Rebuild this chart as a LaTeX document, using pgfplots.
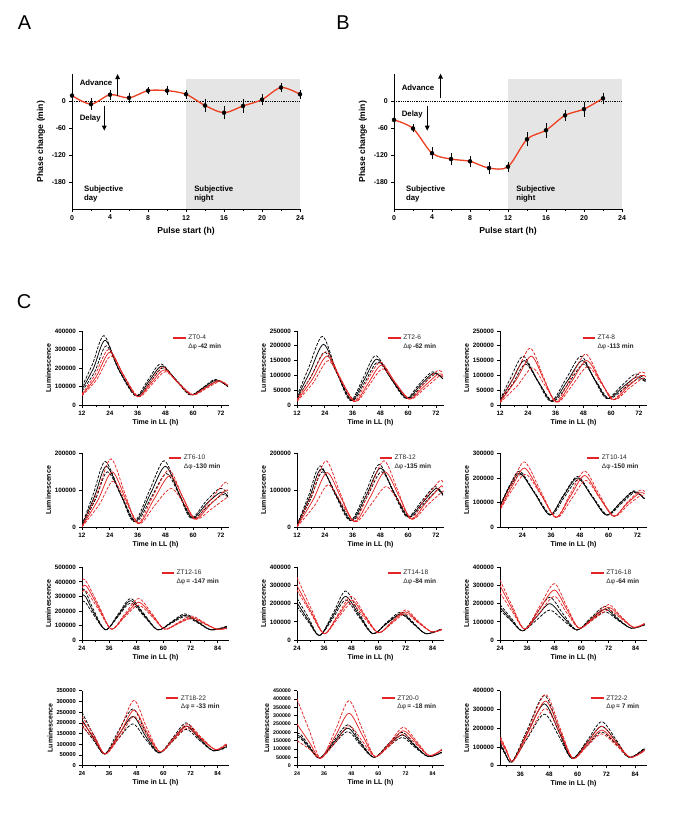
\documentclass[border=0pt]{standalone}
\usepackage{pgfplots}
\pgfplotsset{compat=1.18}
\usepackage{fontspec}
\setmainfont{Liberation Sans}
\usetikzlibrary{arrows.meta}
\definecolor{cred}{RGB}{228,36,36}
\definecolor{ored}{RGB}{238,62,32}
\pgfplotsset{
 base/.style={scale only axis, axis x line*=bottom, axis y line*=left,
   tick align=outside, axis line style={line width=0.9pt},
   every tick/.style={black, line width=0.7pt},
   major tick length=2.6pt, minor tick length=1.6pt,
   /pgf/number format/assume math mode=true},
 cp/.style={base, anchor=south west, width=147pt, ymin=0, xtick={12,24,...,84}, minor x tick num=1,
   tick label style={font=\bfseries\fontsize{6.3}{7}\selectfont},
   xlabel={Time in LL (h)}, ylabel={Luminescence},
   xlabel style={font=\bfseries\fontsize{7}{8}\selectfont, yshift=3pt},
   ylabel style={font=\bfseries\fontsize{7}{8}\selectfont, yshift=-3pt}},
 pp/.style={base, anchor=south west, width=228pt, height=135pt, xmin=0, xmax=24, ymin=-240, ymax=60,
   xtick={0,4,...,24}, minor x tick num=1, ytick={-180,-120,-60,0},
   tick label style={font=\bfseries\fontsize{7}{8}\selectfont},
   xlabel={Pulse start (h)}, ylabel={Phase change (min)},
   label style={font=\bfseries\fontsize{8.6}{10}\selectfont}, clip=false},
 bk/.style={black, line width=0.75pt, smooth, mark=none},
 bkd/.style={bk, dash pattern=on 3pt off 1.5pt},
 rd/.style={cred, line width=0.75pt, smooth, mark=none},
 rdd/.style={rd, dash pattern=on 3pt off 1.5pt},
 eb/.style={only marks, mark=none, black, error bars/.cd, y dir=both, y explicit,
   error bar style={line width=0.75pt, black}, error mark options={black, mark size=2.2pt, line width=0.75pt}},
 y200/.style={ymax=200, ytick={0,100,200}, yticklabels={0,100000,200000}},
 y250/.style={ymax=250, ytick={0,50,...,250}, yticklabels={0,50000,100000,150000,200000,250000}},
 y300/.style={ymax=300, ytick={0,100,...,300}, yticklabels={0,100000,200000,300000}},
 y350/.style={ymax=350, ytick={0,50,...,350}, yticklabels={0,50000,100000,150000,200000,250000,300000,350000}, tick label style={font=\bfseries\fontsize{5.8}{6}\selectfont}},
 y400/.style={ymax=400, ytick={0,100,...,400}, yticklabels={0,100000,200000,300000,400000}},
 y450/.style={ymax=450, ytick={0,50,...,450}, yticklabels={0,50000,100000,150000,200000,250000,300000,350000,400000,450000}, tick label style={font=\bfseries\fontsize{5.3}{5.5}\selectfont}},
 y500/.style={ymax=500, ytick={0,100,...,500}, yticklabels={0,100000,200000,300000,400000,500000}},
}
\newcommand{\leg}[4]{\node[anchor=west, inner sep=0pt, align=left, font=\fontsize{6.6}{8.5}\selectfont, text=black!85] at (rel axis cs:#1,#2) {\textcolor{cred}{\rule[0.2em]{12.5pt}{1.3pt}}\hspace{2.5pt}#3\\\hspace{15pt}Δφ\,\textbf{#4}};}
\begin{document}
\begin{tikzpicture}
\path[use as bounding box] (0,0) rectangle (683pt,-814pt);
\node[font=\fontsize{20}{20}\selectfont] at (24.5pt,-22.5pt) {A};
\node[font=\fontsize{20}{20}\selectfont] at (343pt,-22.5pt) {B};
\node[font=\fontsize{20}{20}\selectfont] at (24pt,-302pt) {C};

% ---------- Panel A
\begin{axis}[pp, at={(72pt,-209pt)}]
\addplot[draw=none, fill=gray!20] coordinates {(12,-240) (12,50) (24,50) (24,-240)};
\addplot[densely dotted, line width=0.8pt] coordinates {(0,0) (24,0)};
\addplot[ored, line width=1.3pt, smooth, mark=none] table {
x y
0 12
2 -7
4 14
6 7
8 23
10 23
12 15
14 -10
16 -26
18 -11
20 3
22 30
24 15
};
\addplot[eb] table[y error=e] {
x y e
0 12 10
2 -7 8
4 14 6
6 7 7
8 23 3
10 23 5
12 15 5
14 -10 9
16 -26 10
18 -11 10
20 3 8
22 30 5
24 15 5
};
\draw[-{Triangle[length=5pt,width=4.5pt]}, line width=1pt] (axis cs:4.8,11) -- (axis cs:4.8,60);
\draw[-{Triangle[length=5pt,width=4.5pt]}, line width=1pt] (axis cs:3.4,-10) -- (axis cs:3.4,-66);
\node[anchor=west, font=\bfseries\fontsize{7.8}{9}\selectfont] at (axis cs:0.45,40) {Advance};
\node[anchor=west, font=\bfseries\fontsize{7.8}{9}\selectfont] at (axis cs:0.45,-38) {Delay};
\node[anchor=west, align=left, font=\bfseries\fontsize{7.8}{9}\selectfont] at (axis cs:0.9,-206) {Subjective\\day};
\node[anchor=west, align=left, font=\bfseries\fontsize{7.8}{9}\selectfont] at (axis cs:12.5,-206) {Subjective\\night};
\end{axis}

% ---------- Panel B
\begin{axis}[pp, at={(394pt,-209pt)}]
\addplot[draw=none, fill=gray!20] coordinates {(12,-240) (12,50) (24,50) (24,-240)};
\addplot[densely dotted, line width=0.8pt] coordinates {(0,0) (24,0)};
\addplot[ored, line width=1.3pt, smooth, mark=none] table {
x y
0 -42
2 -61
4 -116
6 -129
8 -134
10 -149
12 -146
14 -85
16 -65
18 -32
20 -18
22 6
};
\addplot[eb] table[y error=e] {
x y e
0 -42 12
2 -61 4
4 -116 8
6 -129 9
8 -134 7
10 -149 8
12 -146 6
14 -85 11
16 -65 12
18 -32 8
20 -18 12
22 6 8
};
\draw[-{Triangle[length=5pt,width=4.5pt]}, line width=1pt] (axis cs:4.9,6) -- (axis cs:4.9,61);
\draw[-{Triangle[length=5pt,width=4.5pt]}, line width=1pt] (axis cs:3.5,-11) -- (axis cs:3.5,-66);
\node[anchor=west, font=\bfseries\fontsize{7.8}{9}\selectfont] at (axis cs:0.45,29) {Advance};
\node[anchor=west, font=\bfseries\fontsize{7.8}{9}\selectfont] at (axis cs:0.45,-29) {Delay};
\node[anchor=west, align=left, font=\bfseries\fontsize{7.8}{9}\selectfont] at (axis cs:0.9,-206) {Subjective\\day};
\node[anchor=west, align=left, font=\bfseries\fontsize{7.8}{9}\selectfont] at (axis cs:12.5,-206) {Subjective\\night};
\end{axis}

% ================= Row 1
\begin{axis}[cp, y400, at={(82pt,-405pt)}, height=74pt, xmin=12, xmax=75.5]
\addplot[bkd] coordinates {(12,100) (16.5,220) (21.5,375) (27.5,200) (35,50) (40.5,135) (46,222) (52.5,135) (58.5,55) (64,92) (69.5,138) (75,100)};
\addplot[bk] coordinates {(12,85) (17,200) (22,350) (28,190) (35.5,50) (41,130) (46.5,210) (53,130) (59,55) (64,90) (70,135) (75,100)};
\addplot[bkd] coordinates {(12,75) (17.5,180) (22.5,320) (28.5,175) (36,48) (41.5,125) (47,200) (53.5,125) (59.5,55) (64.5,88) (70.5,130) (75,102)};
\addplot[rdd] coordinates {(12,60) (17.5,160) (23.5,300) (29.5,170) (36,45) (41.5,125) (47,205) (53,125) (59.5,55) (65,92) (71,133) (75,105)};
\addplot[rd] coordinates {(12,55) (18,150) (24,285) (30,160) (36,45) (42,120) (47.5,190) (53.5,120) (59.5,55) (65,90) (71,130) (75,105)};
\addplot[rdd] coordinates {(12,50) (18.5,140) (24.5,265) (30.5,150) (36.5,45) (42.5,115) (48,180) (54,115) (60,55) (65.5,88) (71.5,127) (75,107)};
\leg{0.62}{0.845}{ZT0-4}{-42 min}
\end{axis}

\begin{axis}[cp, y250, at={(297pt,-405pt)}, height=74pt, xmin=12, xmax=75.5]
\addplot[bkd] coordinates {(12,30) (17,125) (23,232) (29,115) (35,15) (40.5,90) (46,167) (52.5,90) (59,22) (64.5,68) (70.5,112) (75,90)};
\addplot[bk] coordinates {(12,25) (17.5,110) (23.5,205) (29.5,105) (35.5,15) (41,85) (46.5,155) (53,85) (59.5,22) (65,65) (71,108) (75,88)};
\addplot[bkd] coordinates {(12,22) (18,95) (24,178) (30,95) (36,15) (41.5,80) (47,145) (53.5,80) (60,22) (65.5,62) (71.5,104) (75,90)};
\addplot[rdd] coordinates {(12,18) (18,95) (24.5,180) (30.5,95) (36.5,12) (42,78) (48,145) (54,80) (60.5,20) (66,65) (72.5,115) (75,108)};
\addplot[rd] coordinates {(12,15) (18.5,85) (25,165) (31,85) (37,12) (42.5,70) (48.5,135) (54.5,75) (60.5,20) (66.5,60) (73,105) (75,100)};
\addplot[rdd] coordinates {(12,12) (19,75) (25.5,150) (31.5,75) (37.5,12) (43,65) (49,122) (55,68) (61,20) (67,55) (73.5,98) (75,95)};
\leg{0.62}{0.845}{ZT2-6}{-62 min}
\end{axis}

\begin{axis}[cp, y250, at={(500pt,-405pt)}, height=74pt, xmin=12, xmax=75.5]
\addplot[bkd] coordinates {(12,18) (16.5,90) (22,165) (28,85) (34,12) (40.5,88) (47,165) (52.5,90) (58,22) (64.5,65) (70.5,105) (75,85)};
\addplot[bk] coordinates {(12,15) (17,80) (22.5,150) (28.5,80) (34.5,12) (41,80) (47.5,150) (53,85) (58.5,22) (65,60) (71,95) (75,80)};
\addplot[bkd] coordinates {(12,12) (17.5,72) (23,138) (29,72) (35,12) (41.5,72) (48,138) (53.5,80) (59,22) (65.5,55) (71.5,88) (75,78)};
\addplot[rdd] coordinates {(12,12) (18.5,100) (25,192) (30.5,100) (36,10) (42.5,90) (49,172) (55,90) (60.5,18) (66.5,65) (72.5,110) (75,105)};
\addplot[rd] coordinates {(12,10) (19,85) (25.5,165) (31,85) (36.5,10) (43,80) (49.5,150) (55.5,80) (61,18) (67,60) (73,100) (75,95)};
\addplot[rdd] coordinates {(12,8) (19.5,65) (26,125) (31.5,65) (37,10) (43.5,70) (50,130) (56,70) (61.5,18) (67.5,55) (73.5,90) (75,88)};
\leg{0.56}{0.845}{ZT4-8}{-113 min}
\end{axis}

% ================= Row 2
\begin{axis}[cp, y200, at={(82pt,-527.3pt)}, height=74pt, xmin=12, xmax=75.5]
\addplot[bkd] coordinates {(12,6) (17,92) (22,178) (28.5,92) (34.5,15) (41,97) (47.5,180) (53.5,97) (59,25) (65.5,70) (71.5,105) (75,92)};
\addplot[bk] coordinates {(12,5) (17.5,85) (22.5,165) (29,85) (35,15) (41.5,90) (48,165) (54,90) (59.5,25) (66,65) (72,95) (75,85)};
\addplot[bkd] coordinates {(12,4) (18,78) (23,150) (29.5,78) (35.5,15) (42,82) (48.5,145) (54.5,82) (60,25) (66.5,58) (72.5,88) (75,82)};
\addplot[rdd] coordinates {(12,3) (18.5,92) (24.5,185) (30.5,92) (36,10) (42.5,82) (49.5,155) (55.5,82) (60.5,22) (67,70) (73.5,120) (75,117)};
\addplot[rd] coordinates {(12,2) (19,75) (25,150) (31,75) (36.5,10) (43,75) (50,140) (56,75) (61,22) (67.5,62) (74,100) (75,98)};
\addplot[rdd] coordinates {(12,1) (19.5,62) (25.5,125) (31.5,62) (37,10) (43.5,60) (50.5,105) (56.5,60) (61.5,22) (68,50) (74.5,80) (75,80)};
\leg{0.59}{0.875}{ZT6-10}{-130 min}
\end{axis}

\begin{axis}[cp, y200, at={(297pt,-527.3pt)}, height=74pt, xmin=12, xmax=75.5]
\addplot[bkd] coordinates {(12,6) (17,85) (22,166) (28.5,88) (35,18) (41.5,92) (47.5,170) (53.5,96) (59.5,28) (65.5,68) (71.5,110) (75,90)};
\addplot[bk] coordinates {(12,5) (17.5,82) (22.5,158) (29,85) (35.5,18) (42,88) (48,160) (54,92) (60,28) (66,65) (72,105) (75,88)};
\addplot[bkd] coordinates {(12,4) (18,78) (23,150) (29.5,82) (36,18) (42.5,85) (48.5,150) (54.5,88) (60.5,28) (66.5,62) (72.5,100) (75,86)};
\addplot[rdd] coordinates {(12,3) (18.5,90) (24.5,180) (30.5,95) (36.5,15) (43,95) (49.5,180) (55.5,100) (61,22) (67,75) (73.5,125) (75,122)};
\addplot[rd] coordinates {(12,2) (19,75) (25,148) (31,80) (37,15) (43.5,80) (50,150) (56,85) (61.5,22) (67.5,65) (74,110) (75,108)};
\addplot[rdd] coordinates {(12,1) (19.5,58) (25.5,115) (31.5,62) (37.5,15) (44,62) (50.5,110) (56.5,65) (62,22) (68,58) (74.5,95) (75,95)};
\leg{0.56}{0.875}{ZT8-12}{-135 min}
\end{axis}

\begin{axis}[cp, y300, at={(500pt,-527.3pt)}, height=74pt, xmin=14.7, xmax=76]
\addplot[bkd] coordinates {(15,95) (19,175) (23,228) (29,142) (35.5,50) (41,128) (47,206) (53,128) (59,50) (65,102) (70.5,148) (75,117)};
\addplot[bk] coordinates {(15,92) (19,170) (23,220) (29,140) (35.5,50) (41,125) (47,200) (53,125) (59,50) (65,100) (70.5,145) (75,115)};
\addplot[bkd] coordinates {(15,88) (19,165) (23.5,214) (29.5,136) (36,50) (41.5,122) (47.5,194) (53.5,122) (59.5,50) (65.5,98) (71,142) (75,113)};
\addplot[rdd] coordinates {(15,85) (20,185) (25,265) (31.5,150) (38,40) (44,135) (50,228) (56,135) (62,45) (67.5,98) (73,150) (75,145)};
\addplot[rd] coordinates {(15,80) (20,170) (25,240) (31.5,140) (38,40) (44,125) (50,210) (56,125) (62,45) (67.5,95) (73,140) (75,135)};
\addplot[rdd] coordinates {(15,75) (20,155) (25.5,215) (32,128) (38.5,40) (44.5,115) (50.5,190) (56.5,115) (62.5,45) (68,90) (73.5,130) (75,127)};
\leg{0.59}{0.875}{ZT10-14}{-150 min}
\end{axis}

% ================= Row 3
\begin{axis}[cp, y500, at={(82pt,-640pt)}, height=72.7pt, xmin=24, xmax=89]
\addplot[bkd] coordinates {(24,350) (25.5,335) (29.5,195) (34.5,70) (40,178) (45.5,285) (51.5,178) (57.5,70) (63.5,125) (69.5,180) (75.5,125) (81,70) (88,95)};
\addplot[bk] coordinates {(24,310) (25.5,300) (29.5,180) (34.5,70) (40,170) (45.5,270) (51.5,170) (57.5,70) (63.5,120) (69.5,170) (75.5,120) (81,70) (88,90)};
\addplot[bkd] coordinates {(24,265) (25.5,260) (29.5,165) (34.5,70) (40,162) (45.5,255) (51.5,162) (57.5,70) (63.5,115) (69.5,160) (75.5,115) (81,70) (88,88)};
\addplot[rdd] coordinates {(24,420) (26,400) (31.5,235) (37,75) (43,180) (49,285) (55,180) (60.5,75) (66.5,120) (72.5,165) (78,120) (83.5,75) (88,82)};
\addplot[rd] coordinates {(24,360) (26,370) (31.5,220) (37,75) (43,170) (49,260) (55,170) (60.5,75) (66.5,115) (72.5,155) (78,115) (83.5,75) (88,80)};
\addplot[rdd] coordinates {(24,330) (26,335) (31.5,205) (37,75) (43,160) (49,240) (55,160) (60.5,75) (66.5,112) (72.5,148) (78,112) (83.5,75) (88,78)};
\leg{0.54}{0.86}{ZT12-16}{= -147 min}
\end{axis}

\begin{axis}[cp, y400, at={(297pt,-640pt)}, height=72.7pt, xmin=24, xmax=89]
\addplot[bkd] coordinates {(24,230) (29,125) (34,25) (40,148) (45.5,270) (51.5,148) (57.5,35) (63.5,95) (70,155) (75.5,95) (81,35) (88,62)};
\addplot[bk] coordinates {(24,205) (29,110) (34,25) (40,135) (45.5,240) (51.5,135) (57.5,35) (63.5,90) (70,145) (75.5,90) (81,35) (88,60)};
\addplot[bkd] coordinates {(24,185) (29,100) (34,25) (40,122) (45.5,220) (51.5,125) (57.5,35) (63.5,88) (70,140) (75.5,88) (81,35) (88,58)};
\addplot[rdd] coordinates {(24,345) (30,180) (36,35) (42,138) (48,240) (54,138) (60,40) (66,102) (72,165) (77.5,105) (83.5,45) (88,60)};
\addplot[rd] coordinates {(24,300) (30,160) (36,35) (42,130) (48,220) (54,130) (60,40) (66,98) (72,155) (77.5,100) (83.5,45) (88,58)};
\addplot[rdd] coordinates {(24,275) (30,150) (36,35) (42,118) (48,200) (54,118) (60,40) (66,92) (72,145) (77.5,95) (83.5,45) (88,56)};
\leg{0.62}{0.86}{ZT14-18}{-84 min}
\end{axis}

\begin{axis}[cp, y400, at={(500pt,-640pt)}, height=72.7pt, xmin=24, xmax=89]
\addplot[bkd] coordinates {(24,195) (29,120) (34,50) (40,142) (46,235) (52,142) (58,55) (64,120) (70.5,185) (76,120) (82,65) (88,87)};
\addplot[bk] coordinates {(24,180) (29,110) (34,50) (40,125) (46,200) (52,125) (58,55) (64,112) (70.5,170) (76,115) (82,65) (88,85)};
\addplot[bkd] coordinates {(24,165) (29,105) (34,50) (40,108) (46,165) (52,108) (58,55) (64,105) (70.5,155) (76,110) (82,65) (88,83)};
\addplot[rdd] coordinates {(24,330) (29.5,185) (35,60) (41.5,185) (48,310) (53.5,185) (59,65) (65.5,130) (72,195) (77.5,130) (83,70) (88,92)};
\addplot[rd] coordinates {(24,300) (29.5,170) (35,60) (41.5,170) (48,275) (53.5,170) (59,65) (65.5,122) (72,180) (77.5,125) (83,70) (88,90)};
\addplot[rdd] coordinates {(24,260) (29.5,155) (35,60) (41.5,150) (48,240) (53.5,150) (59,65) (65.5,115) (72,165) (77.5,118) (83,70) (88,88)};
\leg{0.62}{0.86}{ZT16-18}{-64 min}
\end{axis}

% ================= Row 4
\begin{axis}[cp, y350, at={(82pt,-765.7pt)}, height=75pt, xmin=24, xmax=89]
\addplot[bkd] coordinates {(24,250) (29,145) (34,55) (40,160) (46.5,265) (52,160) (58,60) (64,128) (70,200) (76,130) (82,70) (88,95)};
\addplot[bk] coordinates {(24,215) (29,130) (34,55) (40,140) (46.5,230) (52,140) (58,60) (64,120) (70,185) (76,125) (82,70) (88,90)};
\addplot[bkd] coordinates {(24,190) (29,120) (34,55) (40,125) (46.5,195) (52,125) (58,60) (64,112) (70,170) (76,118) (82,70) (88,85)};
\addplot[rdd] coordinates {(24,230) (29.5,140) (34.5,55) (41,175) (47,305) (52.5,180) (58.5,65) (64.5,130) (70.5,195) (76.5,135) (83,75) (88,105)};
\addplot[rd] coordinates {(24,205) (29.5,130) (34.5,55) (41,155) (47,260) (52.5,160) (58.5,65) (64.5,125) (70.5,185) (76.5,130) (83,75) (88,100)};
\addplot[rdd] coordinates {(24,185) (29.5,120) (34.5,55) (41,140) (47,230) (52.5,145) (58.5,65) (64.5,120) (70.5,175) (76.5,125) (83,75) (88,98)};
\leg{0.57}{0.84}{ZT18-22}{= -33 min}
\end{axis}

\begin{axis}[cp, y450, at={(297pt,-765.7pt)}, height=75pt, xmin=24, xmax=89]
\addplot[bkd] coordinates {(24,190) (25.5,190) (29.5,118) (34,45) (40,145) (46.5,245) (52,145) (58,50) (64,125) (70.5,200) (76,125) (82,55) (88,82)};
\addplot[bk] coordinates {(24,180) (25.5,175) (29.5,110) (34,45) (40,135) (46.5,225) (52,135) (58,50) (64,118) (70.5,185) (76,120) (82,55) (88,80)};
\addplot[bkd] coordinates {(24,170) (25.5,165) (29.5,105) (34,45) (40,125) (46.5,205) (52,125) (58,50) (64,110) (70.5,170) (76,112) (82,55) (88,78)};
\addplot[rdd] coordinates {(24,400) (29.5,210) (34.5,45) (41,215) (47,390) (53,215) (58.5,55) (65,140) (71,230) (77,145) (82.5,60) (88,98)};
\addplot[rd] coordinates {(24,250) (29.5,140) (34.5,45) (41,180) (47,315) (53,180) (58.5,55) (65,130) (71,210) (77,135) (82.5,60) (88,95)};
\addplot[rdd] coordinates {(24,150) (29.5,100) (34.5,45) (41,140) (47,240) (53,145) (58.5,55) (65,120) (71,190) (77,125) (82.5,60) (88,92)};
\leg{0.58}{0.84}{ZT20-0}{= -18 min}
\end{axis}

\begin{axis}[cp, y400, at={(500pt,-765.7pt)}, height=75pt, xmin=27.5, xmax=89]
\addplot[bkd] coordinates {(27,140) (29.5,75) (32.5,20) (39,195) (46,375) (52,205) (57.5,40) (64,135) (70,235) (76,140) (81.5,45) (88,95)};
\addplot[bk] coordinates {(27,130) (29.5,70) (32.5,20) (39,175) (46,330) (52,185) (57.5,40) (64,125) (70,210) (76,130) (81.5,45) (88,90)};
\addplot[bkd] coordinates {(27,120) (29.5,65) (32.5,20) (39,148) (46,275) (52,160) (57.5,40) (64,110) (70,180) (76,115) (81.5,45) (88,85)};
\addplot[rdd] coordinates {(27,175) (30,92) (33,25) (39.5,200) (46.5,380) (52.5,205) (58,40) (64,125) (70,210) (76,130) (82,45) (88,85)};
\addplot[rd] coordinates {(27,160) (30,85) (33,25) (39.5,185) (46.5,345) (52.5,190) (58,40) (64,115) (70,190) (76,120) (82,45) (88,82)};
\addplot[rdd] coordinates {(27,145) (30,80) (33,25) (39.5,165) (46.5,305) (52.5,172) (58,40) (64,105) (70,170) (76,110) (82,45) (88,80)};
\leg{0.62}{0.84}{ZT22-2}{= 7 min}
\end{axis}
\end{tikzpicture}
\end{document}
